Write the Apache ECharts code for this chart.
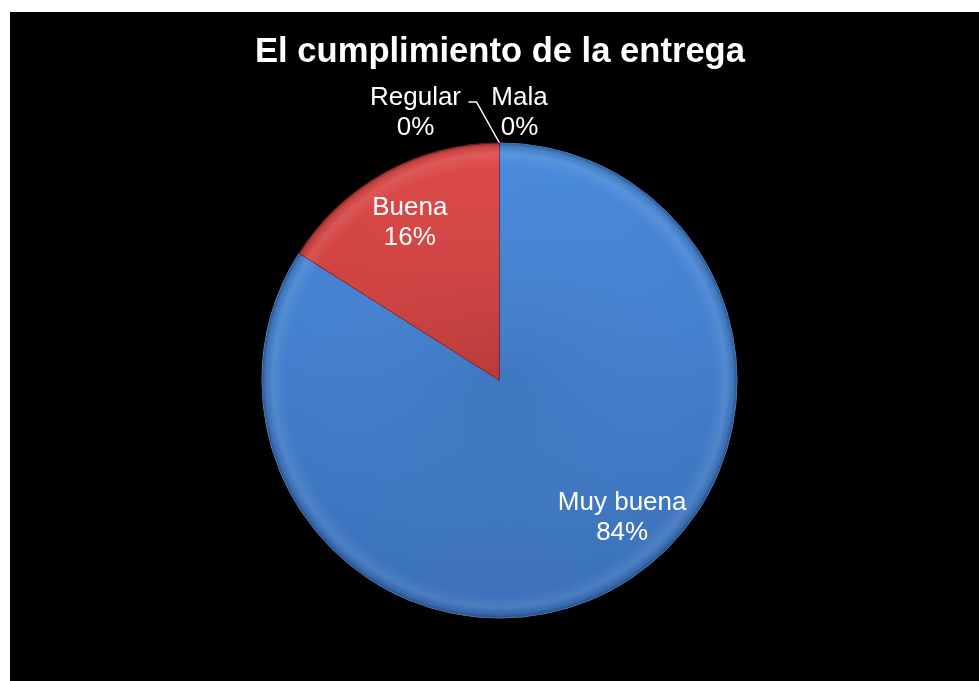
<!DOCTYPE html>
<html>
<head>
<meta charset="utf-8">
<title>El cumplimiento de la entrega</title>
<script src="https://cdn.jsdelivr.net/npm/echarts@6/dist/echarts.min.js"></script>
<style>
  html, body { margin: 0; padding: 0; background: #ffffff; width: 979px; height: 681px; overflow: hidden; }
  #chart { position: absolute; left: 10px; top: 12px; width: 969px; height: 669px; background: #000000; }
</style>
</head>
<body>
<div id="chart"></div>
<script>
// Survey categories and their shares (percent)
const categories = ['Muy buena', 'Buena', 'Regular', 'Mala'];
const values = [84, 16, 0, 0];
const titleText = 'El cumplimiento de la entrega';

const FONT = '"Liberation Sans", Arial, sans-serif';
const CX = 489.5, CY = 368.5, R = 237.5;

const sliceColors = [
  { top: '#4A8BDC', bottom: '#3A70B9', border: '#5C9BE6' },
  { top: '#DE4B49', bottom: '#A83030', border: '#7E2222' },
  { top: '#8FB04A', bottom: '#7A9A3A', border: '#5E7A2A' },
  { top: '#7F62A8', bottom: '#674E8C', border: '#4E3A6C' }
];

// Point at the top of the pie, used to place the labels of the empty slices
const pieTop = [CX, CY - R];

const baseData = categories.map((name, i) => ({
  name: name,
  value: values[i],
  itemStyle: {
    color: {
      type: 'linear', x: 0, y: CY - R, x2: 0, y2: CY + R, global: true,
      colorStops: [
        { offset: 0, color: sliceColors[i].top },
        { offset: 1, color: sliceColors[i].bottom }
      ]
    },
    borderColor: sliceColors[i].border,
    borderWidth: 1
  },
  label: values[i] > 0 ? { position: 'inside' } : { position: 'outside' },
  labelLine: { show: name === 'Regular' }
}));

const chart = echarts.init(document.getElementById('chart'), null, { renderer: 'canvas' });

chart.setOption({
  backgroundColor: '#000000',
  animation: false,
  title: {
    text: titleText,
    left: 245,
    top: 20,
    padding: 0,
    textStyle: { color: '#ffffff', fontFamily: FONT, fontWeight: 'bold', fontSize: 34.6, lineHeight: 40 }
  },
  series: [
    {
      type: 'pie',
      center: [CX, CY],
      radius: [0, R],
      startAngle: 90,
      clockwise: true,
      avoidLabelOverlap: false,
      data: baseData,
      label: {
        show: true,
        formatter: '{b}\n{d}%',
        color: '#ffffff',
        fontFamily: FONT,
        fontSize: 26,
        lineHeight: 30,
        align: 'center'
      },
      labelLine: {
        show: false,
        lineStyle: { color: '#ffffff', width: 1.5 },
        smooth: false
      },
      labelLayout: function (p) {
        const i = p.dataIndex;
        if (i === 0) return { dx: 64, dy: 31 };
        if (i === 1) return { dx: -31, dy: -51 };
        if (i === 2) {
          return {
            x: pieTop[0] - 84, y: pieTop[1] - 30, align: 'center', verticalAlign: 'middle',
            labelLinePoints: [
              [pieTop[0], pieTop[1]],
              [pieTop[0] - 23, pieTop[1] - 41],
              [pieTop[0] - 31, pieTop[1] - 41]
            ]
          };
        }
        return { x: pieTop[0] + 20, y: pieTop[1] - 30, align: 'center', verticalAlign: 'middle' };
      },
      emphasis: { disabled: true },
      z: 2
    },
    {
      // bevel shading over the slices
      type: 'pie',
      center: [CX, CY],
      radius: [0, R],
      startAngle: 90,
      clockwise: true,
      silent: true,
      data: categories.map((name, i) => ({ name: name, value: values[i] })),
      itemStyle: {
        color: {
          type: 'radial', x: CX, y: CY, r: R, global: true,
          colorStops: [
            { offset: 0, color: 'rgba(0,0,0,0.05)' },
            { offset: 0.9, color: 'rgba(255,255,255,0)' },
            { offset: 0.955, color: 'rgba(255,255,255,0.09)' },
            { offset: 0.985, color: 'rgba(0,0,0,0.08)' },
            { offset: 1, color: 'rgba(0,0,0,0.35)' }
          ]
        },
        borderWidth: 0
      },
      label: { show: false },
      labelLine: { show: false },
      emphasis: { disabled: true },
      z: 3
    }
  ]
});
</script>
</body>
</html>
